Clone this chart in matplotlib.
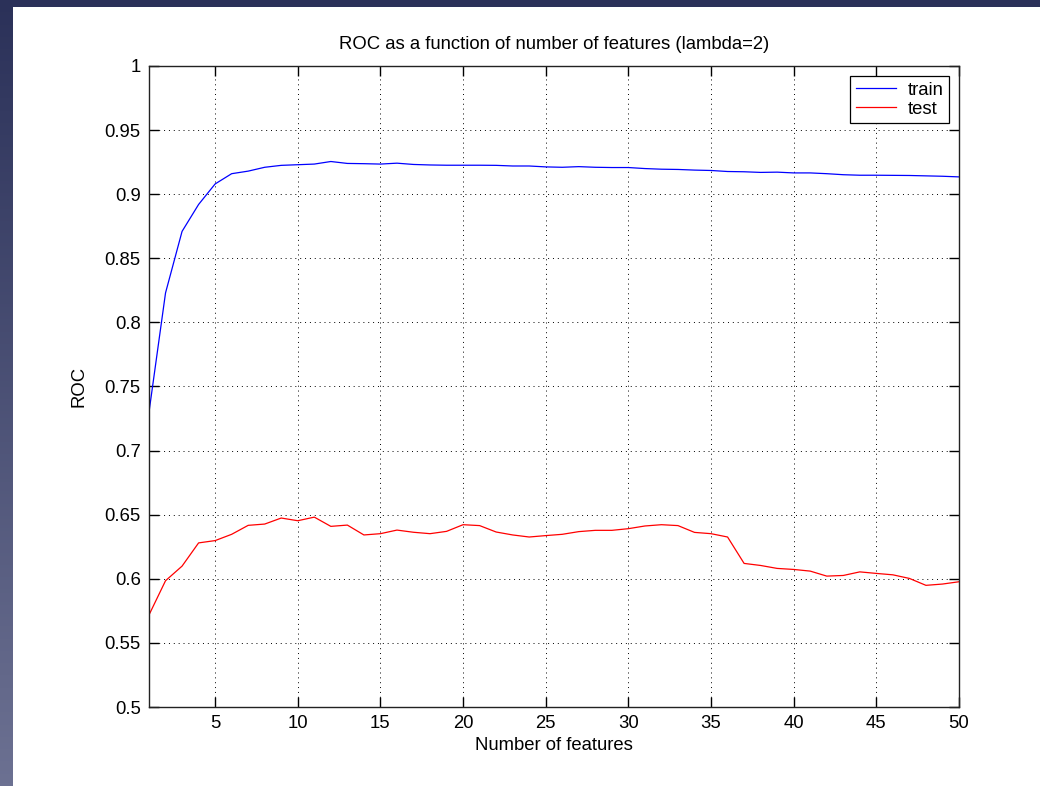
import matplotlib

matplotlib.use("Agg")
import matplotlib.pyplot as plt
import numpy as np
from matplotlib.colors import LinearSegmentedColormap

N_FEATURES = list(range(1, 51))
TRAIN_ROC = [
    0.730, 0.823, 0.871, 0.892, 0.908, 0.916, 0.918, 0.921, 0.9225, 0.923,
    0.9235, 0.9255, 0.924, 0.9238, 0.9235, 0.9242, 0.9232, 0.9228, 0.9226, 0.9226,
    0.9226, 0.9225, 0.922, 0.922, 0.9213, 0.921, 0.9215, 0.921, 0.9208, 0.9208,
    0.920, 0.9195, 0.9193, 0.9188, 0.9185, 0.9177, 0.9175, 0.917, 0.9172, 0.9166,
    0.9166, 0.916, 0.9152, 0.9148, 0.9148, 0.9147, 0.9146, 0.9143, 0.914, 0.9135,
]
TEST_ROC = [
    0.5718, 0.5985, 0.6099, 0.628, 0.6298, 0.6347, 0.6417, 0.6427, 0.6474, 0.6453,
    0.6481, 0.6409, 0.6419, 0.6342, 0.6352, 0.638, 0.6363, 0.6352, 0.637, 0.6422,
    0.6415, 0.6365, 0.6342, 0.6326, 0.6337, 0.6347, 0.6368, 0.6378, 0.6378, 0.6391,
    0.6412, 0.6422, 0.6415, 0.6362, 0.6352, 0.6326, 0.612, 0.6104, 0.6081, 0.6073,
    0.606, 0.6021, 0.6026, 0.6054, 0.6042, 0.6031, 0.6003, 0.5949, 0.5959, 0.5977,
]
X_TICKS = [5, 10, 15, 20, 25, 30, 35, 40, 45, 50]
Y_TICKS = [0.5, 0.55, 0.6, 0.65, 0.7, 0.75, 0.8, 0.85, 0.9, 0.95, 1.0]
Y_TICK_LABELS = ["0.5", "0.55", "0.6", "0.65", "0.7", "0.75", "0.8", "0.85", "0.9", "0.95", "1"]

W, H = 1040, 786
FS = 13.3


def main() -> None:
    plt.rcParams.update(
        {
            "font.family": ["Liberation Sans", "DejaVu Sans"],
            "font.size": FS,
            "axes.linewidth": 1.0,
        }
    )
    fig = plt.figure(figsize=(W / 100, H / 100), dpi=100, facecolor="white")

    # slide-style dark border on the left and top
    cmap = LinearSegmentedColormap.from_list("edge", ["#2b3159", "#6c7192"])
    left = fig.add_axes([0, 0, 13 / W, 1])
    left.imshow(np.linspace(0, 1, 256)[:, None], aspect="auto", cmap=cmap)
    left.set_axis_off()
    top = fig.add_axes([0, 1 - 7 / H, 1, 7 / H])
    top.set_axis_off()
    top.add_patch(plt.Rectangle((0, 0), 1, 1, transform=top.transAxes, color="#2b3159"))

    x0, x1, y0, y1 = 149, 959, 66, 707
    ax = fig.add_axes([x0 / W, 1 - y1 / H, (x1 - x0) / W, (y1 - y0) / H])
    ax.plot(N_FEATURES, TRAIN_ROC, color="#0000ff", lw=0.9, label="train")
    ax.plot(N_FEATURES, TEST_ROC, color="#ff0000", lw=0.9, label="test")

    ax.set_xlim(1, 50)
    ax.set_ylim(0.5, 1.0)
    ax.set_xticks(X_TICKS)
    ax.set_yticks(Y_TICKS)
    ax.set_yticklabels(Y_TICK_LABELS)
    ax.grid(True, color="black", linestyle=(0, (1, 4)), linewidth=0.7)
    ax.tick_params(direction="in", top=True, right=True, length=7, width=1.0, labelsize=FS, pad=6)
    for spine in ax.spines.values():
        spine.set_color("#222222")

    ax.set_title("ROC as a function of number of features (lambda=2)", fontsize=FS, pad=12)
    ax.set_xlabel("Number of features", fontsize=FS, labelpad=3)
    ax.set_ylabel("ROC", fontsize=FS, labelpad=12)

    leg = ax.legend(
        loc="upper right",
        fancybox=False,
        edgecolor="black",
        framealpha=1,
        handlelength=2.2,
        borderpad=0.3,
        labelspacing=0.1,
        handletextpad=0.6,
        borderaxespad=0.55,
        fontsize=FS,
    )
    leg.get_frame().set_linewidth(0.9)

    fig.savefig("out.png", dpi=100, facecolor="white")
    plt.close(fig)


if __name__ == "__main__":
    main()
